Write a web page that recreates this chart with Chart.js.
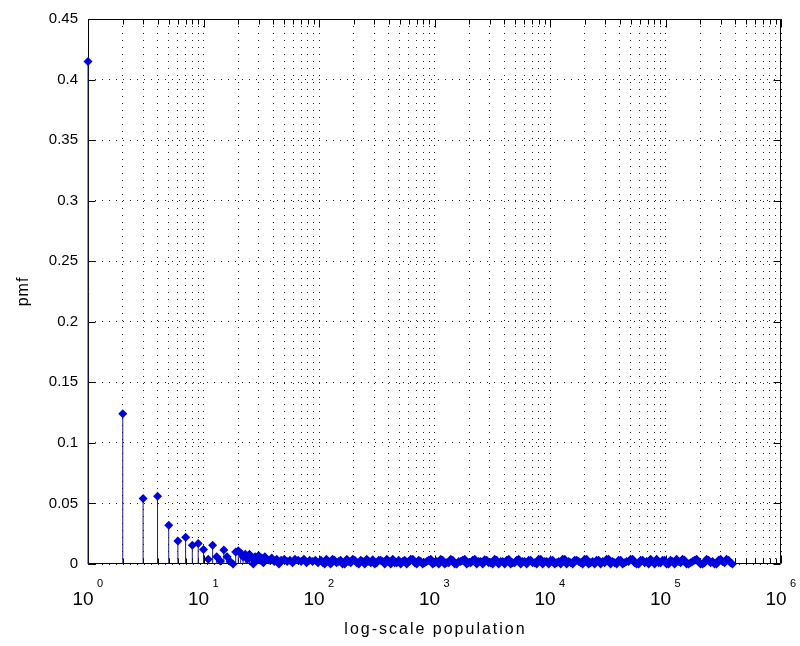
<!DOCTYPE html>
<html>
<head>
<meta charset="utf-8">
<script src="https://cdn.jsdelivr.net/npm/chart.js@4"></script>
<style>
  html, body { margin: 0; padding: 0; background: #fff; }
</style>
</head>
<body>
<canvas id="chart" width="800" height="646"></canvas>
<script>
// population values (x) and their pmf (y)
const headPopulation = [1, 2, 3, 4, 5, 6, 7, 8, 9, 10, 11, 12, 13, 14, 15, 16, 17, 18, 19, 20, 21, 22, 23, 24];
const headPmf = [0.415, 0.124, 0.054, 0.056, 0.032, 0.019, 0.022, 0.0155, 0.017, 0.012, 0.004, 0.0155, 0.006, 0.0025,
  0.0115, 0.006, 0.002, 0, 0.01, 0.011, 0.009, 0.006, 0.008, 0.004];

const midPopulation = [25, 26, 27, 28, 29, 30, 31, 32, 33, 34, 35, 37, 39, 41, 43, 45, 47, 50, 53, 56, 59, 62, 66, 70,
  74, 78, 83, 88, 93, 98];
const midPmf = [0.008, 0.005, 0, 0.006, 0.004, 0.007, 0.003, 0.005, 0.001, 0.006, 0.004, 0.003, 0.005, 0.002, 0.004,
  0, 0.003, 0.004, 0.002, 0.003, 0.001, 0.004, 0.003, 0.002, 0.004, 0.001, 0.003, 0.002, 0.003, 0.001];

// the long flat tail (the solid band along the bottom)
const tailPopulation = [
  104, 112, 121, 131, 142, 154, 167, 181, 196, 212, 230, 249, 270, 292, 316, 342, 371, 402, 435, 471, 510, 552, 598,
  648, 702, 760, 823, 891, 965,
  1045, 1132, 1226, 1328, 1438, 1557, 1686, 1826, 1978, 2142, 2320, 2512, 2721, 2946, 3191, 3456, 3742, 4053, 4389,
  4753, 5148, 5575, 6037, 6538, 7081, 7668, 8304, 8993, 9739,
  10547, 11422, 12370, 13396, 14507, 15711, 17014, 18425, 19954, 21609, 23401, 25342, 27444, 29720, 32185, 34855,
  37746, 40877, 44267, 47939, 51915, 56221, 60884, 65934, 71403, 77325, 83739, 90685, 98207,
  106353, 115175, 124728, 135073, 146277, 158410, 171549, 185778, 201187, 217875, 235946, 255516, 276710, 299662,
  324517, 351434, 380000];
const tailPmf = [
  0.003, 0, 0.002, 0.004, 0.001, 0.003, 0, 0.002, 0.004, 0.001, 0.003, 0, 0.002, 0.0035, 0.001, 0.003, 0, 0.002,
  0.004, 0.001, 0, 0.003, 0.002, 0.004, 0, 0.002, 0.001, 0.003, 0,
  0.002, 0.004, 0, 0.001, 0.003, 0, 0.002, 0.004, 0.001, 0.003, 0, 0.002, 0.0035, 0.001, 0, 0.003, 0.002, 0, 0.004,
  0.001, 0.003, 0, 0.002, 0.003, 0.001, 0, 0.004, 0.002, 0,
  0.003, 0.001, 0, 0.004, 0.002, 0, 0.003, 0.001, 0.004, 0, 0.002, 0.003, 0, 0.001, 0.004, 0.002, 0, 0.003, 0.001,
  0.002, 0.004, 0, 0.003, 0.001, 0, 0.002, 0.004, 0.001, 0.003,
  0, 0.002, 0.004, 0.001, 0.003, 0, 0.002, 0.004, 0, 0.001, 0.003, 0.002, 0, 0.004, 0.001, 0.003, 0];

const tail2Population = [
  108, 116, 126, 136, 148, 160, 174, 188, 204, 221, 239, 259, 281, 304, 329, 356, 386, 418, 453, 490, 531, 575, 623,
  675, 731, 791, 857, 928, 1004,
  1088, 1178, 1276, 1382, 1497, 1621, 1755, 1901, 2059, 2230, 2415, 2615, 2832, 3067, 3321, 3597, 3895, 4218, 4568,
  4947, 5358, 5803, 6284, 6806, 7370, 7982, 8644, 9362, 10140,
  10976, 11887, 12873, 13941, 15098, 16350, 17707, 19176, 20767, 22489, 24353, 26373, 28562, 30932, 33499, 36277,
  39287, 42546, 46074, 49897, 54035, 58518, 63373, 68626, 74318, 80481, 87158, 94383, 102200,
  110684, 119864, 129808, 140577, 152235, 164862, 178537, 193350, 209384, 226761, 245555, 265921, 287964, 311849,
  337734, 365000];
const tail2Pmf = [
  0.001, 0.004, 0, 0.003, 0.002, 0, 0.004, 0.001, 0.003, 0, 0.002, 0.004, 0.001, 0, 0.003, 0.002, 0.004, 0, 0.001,
  0.003, 0.002, 0, 0.004, 0.001, 0.003, 0, 0.002, 0.004, 0.001,
  0, 0.003, 0.001, 0.004, 0, 0.002, 0.003, 0, 0.001, 0.004, 0.002, 0, 0.003, 0.001, 0.004, 0, 0.002, 0.003, 0, 0.001,
  0.004, 0.002, 0, 0.003, 0.001, 0.004, 0, 0.002, 0.003,
  0, 0.002, 0.004, 0, 0.001, 0.003, 0.002, 0, 0.004, 0.001, 0, 0.003, 0.002, 0.004, 0, 0.001, 0.003, 0, 0.002, 0.004,
  0.001, 0, 0.003, 0.002, 0.004, 0, 0.001, 0.003, 0,
  0.003, 0, 0.002, 0.004, 0, 0.001, 0.003, 0.002, 0, 0.004, 0.001, 0, 0.003, 0.002, 0.004, 0.001];

const decades = [1, 10, 100, 1000, 10000, 100000, 1000000];
const exponents = ["0", "1", "2", "3", "4", "5", "6"];
const minorSteps = [1, 2, 3, 4, 5, 6, 7, 8, 9];
const yTicks = [0, 0.05, 0.1, 0.15, 0.2, 0.25, 0.3, 0.35, 0.4, 0.45];

const population = headPopulation.concat(midPopulation, tailPopulation, tail2Population);
const pmf = headPmf.concat(midPmf, tailPmf, tail2Pmf);

// tick values for the log axis: 1..9 in each decade, then 10^6
const xTickValues = [];
decades.slice(0, -1).forEach((d) => minorSteps.forEach((m) => xTickValues.push(d * m)));
xTickValues.push(decades[decades.length - 1]);

// stems: 0 -> value, broken by a null after each one
const stemData = [];
population.forEach((p, i) => {
  stemData.push({ x: p, y: 0 }, { x: p, y: pmf[i] }, { x: p, y: null });
});
const markerData = population.map((p, i) => ({ x: p, y: pmf[i] }));

const FONT = "'Liberation Sans', Arial, sans-serif";

const matlabAxes = {
  id: "matlabAxes",
  beforeDatasetsDraw(chart) {
    const { ctx, chartArea: a, scales } = chart;
    const x = scales.x, y = scales.y;
    ctx.save();
    ctx.strokeStyle = "#000";
    ctx.lineWidth = 1;
    ctx.beginPath();
    const L = Math.round(a.left) + 0.5, R = Math.round(a.right) - 0.5;
    const T = Math.round(a.top) + 0.5, B = Math.round(a.bottom) - 0.5;
    ctx.rect(L, T, R - L, B - T);
    xTickValues.forEach((v) => {
      const px = Math.round(x.getPixelForValue(v)) + 0.5;
      const len = decades.includes(v) ? 8 : 5;
      ctx.moveTo(px, B); ctx.lineTo(px, B - len);
      ctx.moveTo(px, T); ctx.lineTo(px, T + len);
    });
    yTicks.forEach((v) => {
      const py = Math.round(y.getPixelForValue(v)) + 0.5;
      ctx.moveTo(L, py); ctx.lineTo(L + 7, py);
      ctx.moveTo(R, py); ctx.lineTo(R - 7, py);
    });
    ctx.stroke();
    ctx.restore();
  },
  afterDraw(chart) {
    const { ctx, chartArea: a, scales } = chart;
    const x = scales.x;
    ctx.save();
    ctx.fillStyle = "#000";
    decades.forEach((d, i) => {
      const px = x.getPixelForValue(d);
      ctx.font = "19px " + FONT;
      ctx.textAlign = "center";
      ctx.textBaseline = "middle";
      ctx.fillText("10", px - 5, 600);
      ctx.font = "11px " + FONT;
      ctx.textAlign = "left";
      ctx.fillText(exponents[i], px + 9, 584);
    });
    // axis titles
    ctx.font = "16px " + FONT;
    ctx.textAlign = "center";
    ctx.textBaseline = "middle";
    ctx.letterSpacing = "2px";
    ctx.fillText("log-scale population", (a.left + a.right) / 2 + 1, 630);
    ctx.letterSpacing = "1px";
    ctx.translate(24, (a.top + a.bottom) / 2);
    ctx.rotate(-Math.PI / 2);
    ctx.fillText("pmf", 0, 0);
    ctx.restore();
  },
};

new Chart(document.getElementById("chart"), {
  data: {
    datasets: [
      {
        type: "line",
        data: stemData,
        order: 1,
        clip: false,
        borderColor: "#1c1c7a",
        borderWidth: 1,
        pointRadius: 0,
        spanGaps: false,
        fill: false,
      },
      {
        type: "scatter",
        data: markerData,
        order: 0,
        clip: false,
        pointStyle: "rectRot",
        pointRadius: 4.5,
        backgroundColor: "#0000dc",
        borderColor: "#0000dc",
        borderWidth: 0,
      },
    ],
  },
  options: {
    responsive: false,
    animation: false,
    devicePixelRatio: 1,
    layout: { padding: { top: 15, right: 19, left: 0, bottom: 0 } },
    plugins: { legend: { display: false }, tooltip: { enabled: false } },
    scales: {
      x: {
        type: "logarithmic",
        min: 1,
        max: 1000000,
        afterBuildTicks: (s) => { s.ticks = xTickValues.map((v) => ({ value: v })); },
        afterFit: (s) => { s.height = 82; },
        ticks: { display: false },
        grid: { color: "#222", lineWidth: 1, drawTicks: false },
        border: { display: false, dash: [1, 6] },
      },
      y: {
        type: "linear",
        min: 0,
        max: 0.45,
        afterBuildTicks: (s) => { s.ticks = yTicks.map((v) => ({ value: v })); },
        afterFit: (s) => { s.width = 88; },
        ticks: {
          color: "#000",
          padding: 10,
          font: { family: FONT, size: 15 },
          callback: (v) => String(Number(v.toFixed(2))),
        },
        grid: { color: "#222", lineWidth: 1, drawTicks: false },
        border: { display: false, dash: [1, 6] },
      },
    },
  },
  plugins: [matlabAxes],
});
</script>
</body>
</html>
